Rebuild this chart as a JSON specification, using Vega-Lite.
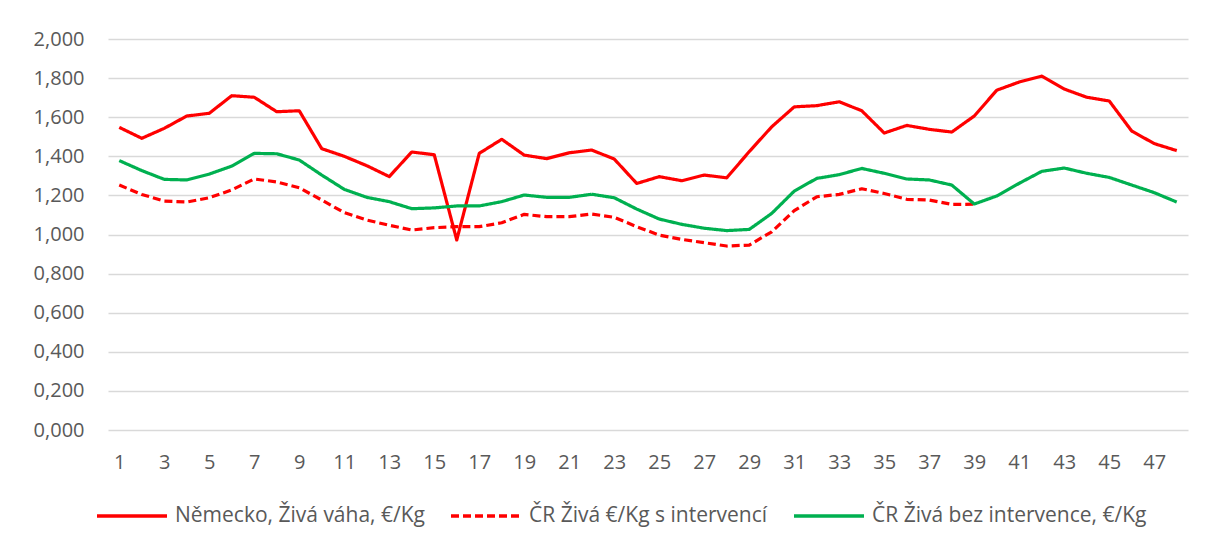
{
  "$schema": "https://vega.github.io/schema/vega-lite/v6.json",
  "autosize": "none",
  "width": 1080,
  "height": 391,
  "padding": {"left": 108, "top": 39, "right": 18, "bottom": 114},
  "background": "#ffffff",
  "config": {
    "view": {"stroke": null},
    "font": "Open Sans",
    "axis": {"labelFont": "Open Sans", "labelColor": "#595959", "labelFontSize": 20, "ticks": false, "domain": false},
    "legend": {"labelFont": "Open Sans", "labelColor": "#595959", "labelFontSize": 21}
  },
  "datasets": {
    "d": [
      {"w":1,"s":"N","v":1.548},{"w":2,"s":"N","v":1.492},{"w":3,"s":"N","v":1.543},{"w":4,"s":"N","v":1.606},{"w":5,"s":"N","v":1.620},{"w":6,"s":"N","v":1.710},{"w":7,"s":"N","v":1.702},{"w":8,"s":"N","v":1.628},{"w":9,"s":"N","v":1.633},{"w":10,"s":"N","v":1.439},{"w":11,"s":"N","v":1.400},{"w":12,"s":"N","v":1.352},{"w":13,"s":"N","v":1.296},{"w":14,"s":"N","v":1.422},{"w":15,"s":"N","v":1.408},{"w":16,"s":"N","v":0.972},{"w":17,"s":"N","v":1.415},{"w":18,"s":"N","v":1.487},{"w":19,"s":"N","v":1.406},{"w":20,"s":"N","v":1.388},{"w":21,"s":"N","v":1.418},{"w":22,"s":"N","v":1.432},{"w":23,"s":"N","v":1.386},{"w":24,"s":"N","v":1.261},{"w":25,"s":"N","v":1.296},{"w":26,"s":"N","v":1.275},{"w":27,"s":"N","v":1.304},{"w":28,"s":"N","v":1.290},{"w":29,"s":"N","v":1.424},{"w":30,"s":"N","v":1.551},{"w":31,"s":"N","v":1.653},{"w":32,"s":"N","v":1.659},{"w":33,"s":"N","v":1.679},{"w":34,"s":"N","v":1.633},{"w":35,"s":"N","v":1.519},{"w":36,"s":"N","v":1.558},{"w":37,"s":"N","v":1.538},{"w":38,"s":"N","v":1.524},{"w":39,"s":"N","v":1.606},{"w":40,"s":"N","v":1.738},{"w":41,"s":"N","v":1.780},{"w":42,"s":"N","v":1.810},{"w":43,"s":"N","v":1.744},{"w":44,"s":"N","v":1.702},{"w":45,"s":"N","v":1.683},{"w":46,"s":"N","v":1.529},{"w":47,"s":"N","v":1.465},{"w":48,"s":"N","v":1.429},
      {"w":1,"s":"S","v":1.253},{"w":2,"s":"S","v":1.205},{"w":3,"s":"S","v":1.171},{"w":4,"s":"S","v":1.166},{"w":5,"s":"S","v":1.188},{"w":6,"s":"S","v":1.228},{"w":7,"s":"S","v":1.284},{"w":8,"s":"S","v":1.269},{"w":9,"s":"S","v":1.239},{"w":10,"s":"S","v":1.176},{"w":11,"s":"S","v":1.112},{"w":12,"s":"S","v":1.074},{"w":13,"s":"S","v":1.047},{"w":14,"s":"S","v":1.023},{"w":15,"s":"S","v":1.035},{"w":16,"s":"S","v":1.040},{"w":17,"s":"S","v":1.040},{"w":18,"s":"S","v":1.060},{"w":19,"s":"S","v":1.103},{"w":20,"s":"S","v":1.091},{"w":21,"s":"S","v":1.091},{"w":22,"s":"S","v":1.105},{"w":23,"s":"S","v":1.088},{"w":24,"s":"S","v":1.040},{"w":25,"s":"S","v":0.997},{"w":26,"s":"S","v":0.975},{"w":27,"s":"S","v":0.958},{"w":28,"s":"S","v":0.941},{"w":29,"s":"S","v":0.946},{"w":30,"s":"S","v":1.014},{"w":31,"s":"S","v":1.122},{"w":32,"s":"S","v":1.193},{"w":33,"s":"S","v":1.205},{"w":34,"s":"S","v":1.234},{"w":35,"s":"S","v":1.210},{"w":36,"s":"S","v":1.180},{"w":37,"s":"S","v":1.176},{"w":38,"s":"S","v":1.154},{"w":39,"s":"S","v":1.155},
      {"w":1,"s":"B","v":1.378},{"w":2,"s":"B","v":1.327},{"w":3,"s":"B","v":1.282},{"w":4,"s":"B","v":1.279},{"w":5,"s":"B","v":1.309},{"w":6,"s":"B","v":1.350},{"w":7,"s":"B","v":1.415},{"w":8,"s":"B","v":1.413},{"w":9,"s":"B","v":1.381},{"w":10,"s":"B","v":1.304},{"w":11,"s":"B","v":1.231},{"w":12,"s":"B","v":1.190},{"w":13,"s":"B","v":1.168},{"w":14,"s":"B","v":1.132},{"w":15,"s":"B","v":1.136},{"w":16,"s":"B","v":1.146},{"w":17,"s":"B","v":1.146},{"w":18,"s":"B","v":1.168},{"w":19,"s":"B","v":1.202},{"w":20,"s":"B","v":1.190},{"w":21,"s":"B","v":1.190},{"w":22,"s":"B","v":1.206},{"w":23,"s":"B","v":1.188},{"w":24,"s":"B","v":1.130},{"w":25,"s":"B","v":1.079},{"w":26,"s":"B","v":1.052},{"w":27,"s":"B","v":1.032},{"w":28,"s":"B","v":1.020},{"w":29,"s":"B","v":1.026},{"w":30,"s":"B","v":1.108},{"w":31,"s":"B","v":1.222},{"w":32,"s":"B","v":1.287},{"w":33,"s":"B","v":1.306},{"w":34,"s":"B","v":1.338},{"w":35,"s":"B","v":1.313},{"w":36,"s":"B","v":1.284},{"w":37,"s":"B","v":1.279},{"w":38,"s":"B","v":1.253},{"w":39,"s":"B","v":1.156},{"w":40,"s":"B","v":1.197},{"w":41,"s":"B","v":1.262},{"w":42,"s":"B","v":1.323},{"w":43,"s":"B","v":1.340},{"w":44,"s":"B","v":1.313},{"w":45,"s":"B","v":1.292},{"w":46,"s":"B","v":1.253},{"w":47,"s":"B","v":1.214},{"w":48,"s":"B","v":1.166}
    ]
  },
  "data": {"name": "d"},
  "mark": {"type": "line", "strokeWidth": 3.2, "strokeCap": "butt", "strokeJoin": "round"},
  "encoding": {
    "x": {
      "field": "w", "type": "quantitative",
      "scale": {"domain": [0.5, 48.5], "nice": false, "zero": false},
      "axis": {"title": null, "grid": false, "values": [1,3,5,7,9,11,13,15,17,19,21,23,25,27,29,31,33,35,37,39,41,43,45,47], "labelPadding": 22, "labelFlush": false}
    },
    "y": {
      "field": "v", "type": "quantitative",
      "scale": {"domain": [0, 2], "nice": false},
      "axis": {"title": null, "values": [0,0.2,0.4,0.6,0.8,1,1.2,1.4,1.6,1.8,2], "gridColor": "#d9d9d9", "gridWidth": 1.5, "labelPadding": 24, "labelExpr": "replace(format(datum.value, '.3f'), '.', ',')"}
    },
    "color": {
      "field": "s", "type": "nominal",
      "scale": {"domain": ["N", "S", "B"], "range": ["#ff0000", "#ff0000", "#00b050"]},
      "legend": {
        "title": null, "orient": "none", "direction": "horizontal", "legendX": -13, "legendY": 440,
        "symbolType": "stroke", "symbolSize": 4900, "symbolStrokeWidth": 3.5, "labelOffset": 6, "columnPadding": 19, "labelLimit": 400,
        "labelExpr": "datum.value == 'N' ? 'Německo, Živá váha, €/Kg' : datum.value == 'S' ? 'ČR Živá €/Kg s intervencí' : 'ČR Živá bez intervence, €/Kg'"
      }
    },
    "strokeDash": {
      "field": "s", "type": "nominal",
      "scale": {"domain": ["N", "S", "B"], "range": [[1, 0], [8, 4], [1, 0]]},
      "legend": {
        "title": null, "orient": "none", "direction": "horizontal", "legendX": -13, "legendY": 440,
        "symbolType": "stroke", "symbolSize": 4900, "symbolStrokeWidth": 3.5, "labelOffset": 6, "columnPadding": 19, "labelLimit": 400,
        "labelExpr": "datum.value == 'N' ? 'Německo, Živá váha, €/Kg' : datum.value == 'S' ? 'ČR Živá €/Kg s intervencí' : 'ČR Živá bez intervence, €/Kg'"
      }
    },
    "order": {"field": "w"}
  }
}
